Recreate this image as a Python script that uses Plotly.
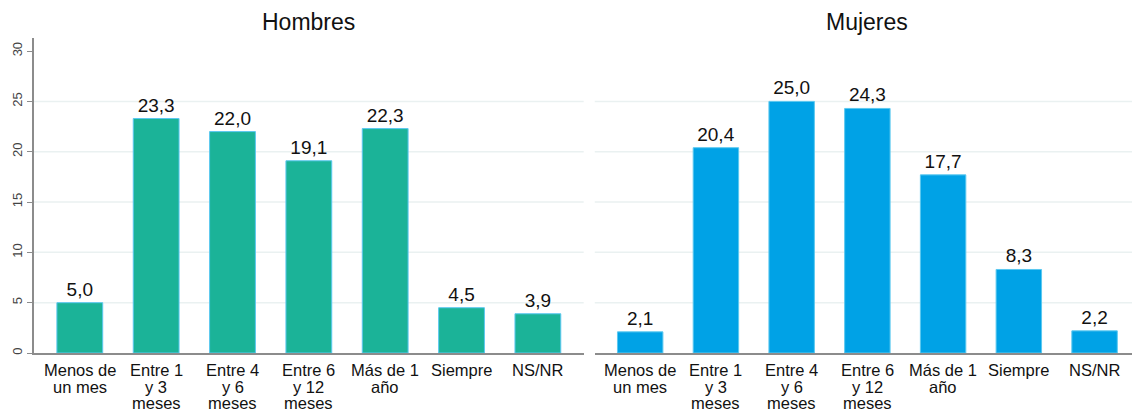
import plotly.graph_objects as go
from plotly.subplots import make_subplots

categorias = ["Menos de<br>un mes", "Entre 1<br>y 3<br>meses", "Entre 4<br>y 6<br>meses",
              "Entre 6<br>y 12<br>meses", "Más de 1<br>año", "Siempre", "NS/NR"]
hombres = [5.0, 23.3, 22.0, 19.1, 22.3, 4.5, 3.9]
mujeres = [2.1, 20.4, 25.0, 24.3, 17.7, 8.3, 2.2]
y_ticks = [0, 5, 10, 15, 20, 25, 30]
grid_y = [5, 10, 15, 20, 25]

dominios = [(0, 0.497), (0.507, 1)]

fig = make_subplots(rows=1, cols=2, shared_yaxes=True)

for col, titulo, vals, color in [(1, "Hombres", hombres, "#1bb398"),
                                 (2, "Mujeres", mujeres, "#00a2e6")]:
    fig.add_trace(go.Bar(
        x=categorias, y=vals, width=0.6,
        marker=dict(color=color, line=dict(color="#5bc8f0", width=1)),
        text=[f"{v:.1f}".replace(".", ",") for v in vals],
        textposition="outside", cliponaxis=False,
        textfont=dict(size=19, color="#111111"),
        showlegend=False,
    ), row=1, col=col)

    d0, d1 = dominios[col - 1]
    fig.add_annotation(x=(d0 + d1) / 2, y=1, xref="paper", yref="paper", text=titulo,
                       showarrow=False, xanchor="center", yanchor="bottom", yshift=1,
                       font=dict(size=23, color="#111111"))

    # category labels drawn line by line to get the tight line spacing
    xref = "x" if col == 1 else "x2"
    for cat in categorias:
        for i, linea in enumerate(cat.split("<br>")):
            fig.add_annotation(x=cat, y=0, xref=xref, yref="y", text=linea,
                               showarrow=False, yanchor="middle", yshift=-17 - i * 16.7,
                               font=dict(size=16.5, color="#111111"))

    # light gridlines (none at the top tick)
    for g in grid_y:
        fig.add_shape(type="line", xref="paper", yref="y", x0=d0, x1=d1, y0=g, y1=g,
                      line=dict(color="#eaf1f1", width=1.5), layer="below")

fig.update_xaxes(range=[-0.6, 6.6], showline=True, linecolor="#8c8c8c", linewidth=2,
                 ticks="", showticklabels=False, showgrid=False, automargin=False)
fig.update_layout(xaxis=dict(domain=list(dominios[0])), xaxis2=dict(domain=list(dominios[1])))
fig.update_yaxes(range=[0, 31.3], tickvals=y_ticks, showgrid=False, zeroline=False,
                 automargin=False)
fig.update_yaxes(showline=True, linecolor="#8c8c8c", linewidth=1.5, ticks="outside",
                 ticklen=5, tickcolor="#8c8c8c", tickangle=-90,
                 tickfont=dict(size=13, color="#444444"), row=1, col=1)
fig.update_yaxes(showticklabels=False, row=1, col=2)

# the page adds an 8px body margin, so margins are reduced accordingly
fig.update_layout(
    width=1140, height=410,
    margin=dict(l=26, r=8, t=30, b=65),
    plot_bgcolor="white", paper_bgcolor="white",
    font=dict(family="Liberation Sans, Arial, sans-serif"),
)

fig.write_html("out.html")
